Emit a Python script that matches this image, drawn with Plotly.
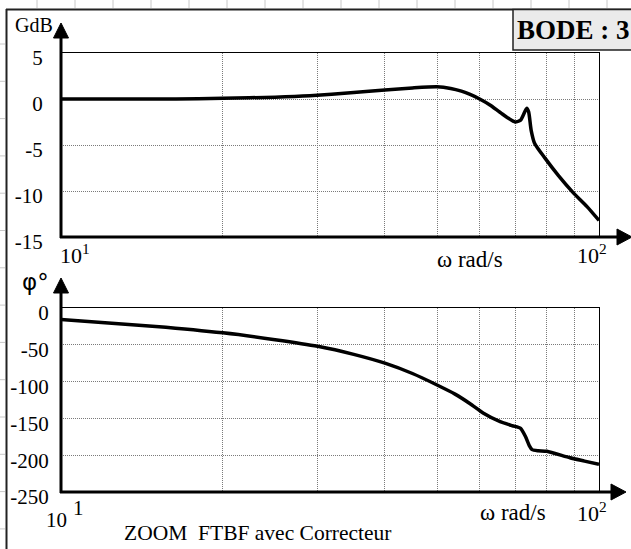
import plotly.graph_objects as go

# ---------------- data ----------------
w_gain = [10, 15, 18, 20, 25, 29, 35, 40, 45, 50, 53, 55.5, 57.6, 60, 62.7, 66,
          69.8, 71.5, 73.4, 74.0, 74.8, 75.9, 79.3, 84, 89.6, 95, 100]
gain_db = [0, 0, 0.03, 0.08, 0.2, 0.35, 0.7, 0.97, 1.2, 1.33, 1.15, 0.85, 0.5, 0.0,
           -0.65, -1.6, -2.5, -2.3, -1.0, -1.4, -3.4, -4.8, -6.4, -8.3, -10.2, -11.7, -13.2]

w_phase = [10, 15, 20, 25, 30, 35, 40, 45, 50, 54, 57.6, 61, 65.5, 69, 71.5, 73.0,
           74.2, 75.1, 77, 80, 88.3, 94, 100]
phase_deg = [-15.6, -25, -33.7, -43, -52, -63, -75, -89, -104.6, -117, -130, -143,
             -154.5, -160, -163.4, -174.6, -187, -192.4, -194, -194.7, -203.5, -208, -212.4]

x_grid = [20, 30, 40, 50, 60, 70, 80, 90]
gain_ticks = [5, 0, -5, -10, -15]
gain_tick_labels = ["5", "0", "-5", "-10", "-15"]
phase_ticks = [0, -50, -100, -150, -200, -250]
phase_tick_labels = ["0", "-50", "-100", "-150", "-200", "-250"]

# ---------------- geometry helpers ----------------
W, H = 631, 549
def px(x):
    return x / W
def py(y):
    return 1 - y / H

FONT = "Liberation Serif"
L, R = 61, 599
TOP1, BOT1 = 53, 237
TOP2, BOT2 = 308, 492

fig = go.Figure()
fig.add_trace(go.Scatter(x=w_gain, y=gain_db, mode="lines", xaxis="x", yaxis="y",
                         line=dict(color="black", width=3.5, shape="spline", smoothing=0.6),
                         hoverinfo="skip", showlegend=False))
fig.add_trace(go.Scatter(x=w_phase, y=phase_deg, mode="lines", xaxis="x2", yaxis="y2",
                         line=dict(color="black", width=3.5, shape="spline", smoothing=0.6),
                         hoverinfo="skip", showlegend=False))

GRID = dict(showgrid=True, gridcolor="#7a7a7a", griddash="1px,1px", gridwidth=1)
xcommon = dict(type="log", range=[1, 2], tickvals=x_grid, showticklabels=False,
               ticks="", showline=True, mirror=True, linecolor="black", linewidth=1,
               zeroline=False, automargin=False, **GRID)
ycommon = dict(showline=True, mirror=True, linecolor="black", linewidth=1, zeroline=False,
               ticks="", tickfont=dict(family=FONT, size=21, color="black"),
               ticklabelshift=5, automargin=False, **GRID)

fig.update_layout(
    width=W, height=H, autosize=False, margin=dict(l=0, r=0, t=0, b=0, pad=0),
    paper_bgcolor="white", plot_bgcolor="white", showlegend=False,
    font=dict(family=FONT, color="black"),
    xaxis=dict(domain=[px(L), px(R)], anchor="y", **xcommon),
    yaxis=dict(domain=[py(BOT1), py(TOP1)], anchor="x", range=[-15, 5],
               tickvals=gain_ticks, ticktext=gain_tick_labels, ticklabelstandoff=13, **ycommon),
    xaxis2=dict(domain=[px(L), px(R)], anchor="y2", **xcommon),
    yaxis2=dict(domain=[py(BOT2), py(TOP2)], anchor="x2", range=[-250, 0],
                tickvals=phase_ticks, ticktext=phase_tick_labels, ticklabelstandoff=7, **ycommon),
)

shapes = []
# spreadsheet cell lines in the margins
for k in range(16):
    xx = 37 + 38 * k
    shapes.append(dict(type="line", xref="paper", yref="paper", x0=px(xx), x1=px(xx),
                       y0=py(0), y1=py(8), line=dict(color="#c8c8c8", width=1)))
for k in range(14):
    yy = 44 + 37.3 * k
    shapes.append(dict(type="line", xref="paper", yref="paper", x0=px(0), x1=px(5),
                       y0=py(yy), y1=py(yy), line=dict(color="#c8c8c8", width=1)))
# outer frame
shapes.append(dict(type="line", xref="paper", yref="paper", x0=px(6.5), x1=px(6.5),
                   y0=py(9), y1=py(549), line=dict(color="#222222", width=2)))
shapes.append(dict(type="line", xref="paper", yref="paper", x0=px(6), x1=px(631),
                   y0=py(9.5), y1=py(9.5), line=dict(color="#222222", width=2)))
# BODE box
shapes.append(dict(type="rect", xref="paper", yref="paper", x0=px(513), x1=px(640),
                   y0=py(50), y1=py(9.5), fillcolor="#ebebeb",
                   line=dict(color="#222222", width=1.5)))

def axis_arrows(top, bot, ytip, xtip):
    shapes.append(dict(type="line", xref="paper", yref="paper", x0=px(L), x1=px(L),
                       y0=py(bot + 1), y1=py(ytip + 10), line=dict(color="black", width=3)))
    shapes.append(dict(type="path", xref="paper", yref="paper",
                       path=f"M {px(L)},{py(ytip)} L {px(L-7.5)},{py(ytip+15)} L {px(L+7.5)},{py(ytip+15)} Z",
                       fillcolor="black", line=dict(color="black", width=1)))
    shapes.append(dict(type="line", xref="paper", yref="paper", x0=px(L - 1), x1=px(xtip - 10),
                       y0=py(bot), y1=py(bot), line=dict(color="black", width=3)))
    shapes.append(dict(type="path", xref="paper", yref="paper",
                       path=f"M {px(xtip)},{py(bot)} L {px(xtip-15)},{py(bot-8)} L {px(xtip-15)},{py(bot+8)} Z",
                       fillcolor="black", line=dict(color="black", width=1)))

axis_arrows(TOP1, BOT1, 23, 632)
axis_arrows(TOP2, BOT2, 278, 626)

fig.update_layout(shapes=shapes)

def ann(text, x, y, size, xanchor="center", yanchor="middle", bold=False, family=FONT):
    if bold:
        text = f"<b>{text}</b>"
    fig.add_annotation(text=text, xref="paper", yref="paper", x=px(x), y=py(y),
                       xanchor=xanchor, yanchor=yanchor, showarrow=False,
                       font=dict(family=family, size=size, color="black"))

ann("BODE : 3", 573, 30, 27, bold=True)
ann("GdB", 33.5, 25, 20)
ann("φ°", 35, 282, 23, family="DejaVu Sans")
ann("10<sup>1</sup>", 58, 254, 22, xanchor="left")
ann("ω rad/s", 470, 259, 23)
ann("10<sup>2</sup>", 575, 254, 22, xanchor="left")
ann("10", 56, 520, 21)
ann("1", 78, 508, 21)
ann("ω rad/s", 513, 512, 23)
ann("10<sup>2</sup>", 575, 512, 22, xanchor="left")
ann("ZOOM  FTBF avec Correcteur", 122, 533, 21.5, xanchor="left")

fig.write_html("out.html",
               config={"displayModeBar": False, "responsive": False},
               post_script="document.body.style.margin='0';document.body.style.overflow='hidden';")
